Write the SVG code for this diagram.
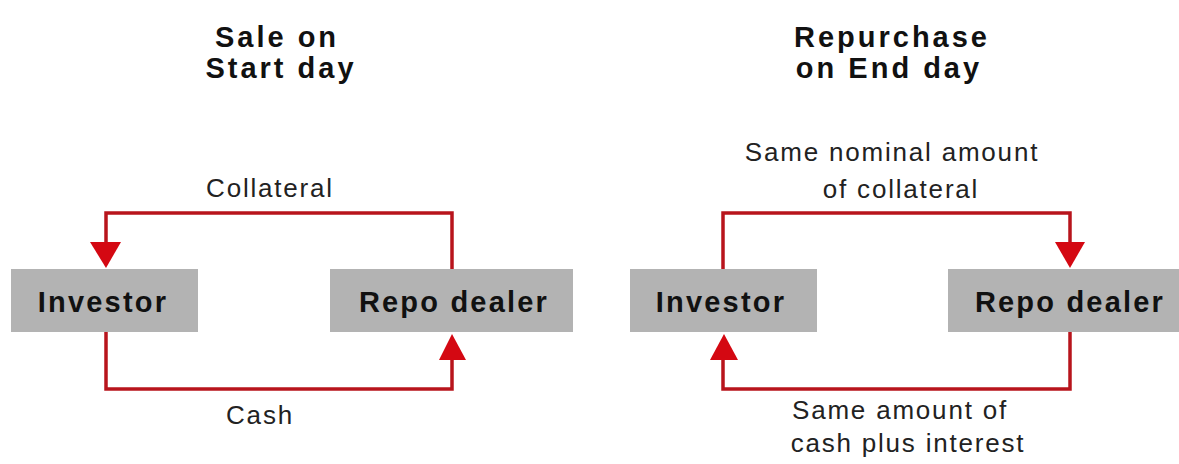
<svg xmlns="http://www.w3.org/2000/svg" width="1179" height="464" viewBox="0 0 1179 464">
<style>
.title{font-family:"Liberation Sans",Arial,sans-serif;font-weight:bold;font-size:29px;letter-spacing:3px;fill:#111;text-anchor:middle}
.box{fill:#b3b3b3}
.node{font-family:"Liberation Sans",Arial,sans-serif;font-weight:bold;font-size:29px;letter-spacing:2.2px;fill:#111;text-anchor:middle}
.lbl{font-family:"Liberation Sans",Arial,sans-serif;font-size:26px;letter-spacing:1.8px;fill:#222;text-anchor:middle}
.ln{fill:none;stroke:#b8141c;stroke-width:3.5}
.ah{fill:#d40812}
</style>
<rect width="1179" height="464" fill="#ffffff"/>
<g id="titles">
<text class="title" x="277" y="47">Sale on</text>
<text class="title" x="281" y="78">Start day</text>
<text class="title" x="892" y="47">Repurchase</text>
<text class="title" x="889" y="78">on End day</text>
</g>
<g id="investor-start">
<rect class="box" x="11" y="269" width="187" height="63"/>
<text class="node" x="103" y="312">Investor</text>
</g>
<g id="dealer-start">
<rect class="box" x="330" y="269" width="243" height="63"/>
<text class="node" x="454" y="312">Repo dealer</text>
</g>
<g id="investor-end">
<rect class="box" x="630" y="269" width="187" height="63"/>
<text class="node" x="721" y="312">Investor</text>
</g>
<g id="dealer-end">
<rect class="box" x="948" y="269" width="243" height="63"/>
<text class="node" x="1070" y="312">Repo dealer</text>
</g>
<g id="connectors">
<path class="ln" d="M452,269 V213 H106 V244"/>
<polygon class="ah" points="90,242 121,242 106,268"/>
<path class="ln" d="M106,332 V389 H452 V358"/>
<polygon class="ah" points="439,360 466,360 452,334"/>
<path class="ln" d="M723,269 V213 H1070 V244"/>
<polygon class="ah" points="1055,242 1085,242 1070,268"/>
<path class="ln" d="M1070,332 V389 H723 V358"/>
<polygon class="ah" points="710,360 738,360 724,334"/>
</g>
<g id="labels">
<text class="lbl" x="270" y="197">Collateral</text>
<text class="lbl" x="260" y="424">Cash</text>
<text class="lbl" x="892" y="161">Same nominal amount</text>
<text class="lbl" x="901" y="198">of collateral</text>
<text class="lbl" x="900" y="419">Same amount of</text>
<text class="lbl" x="908" y="452">cash plus interest</text>
</g>
</svg>
